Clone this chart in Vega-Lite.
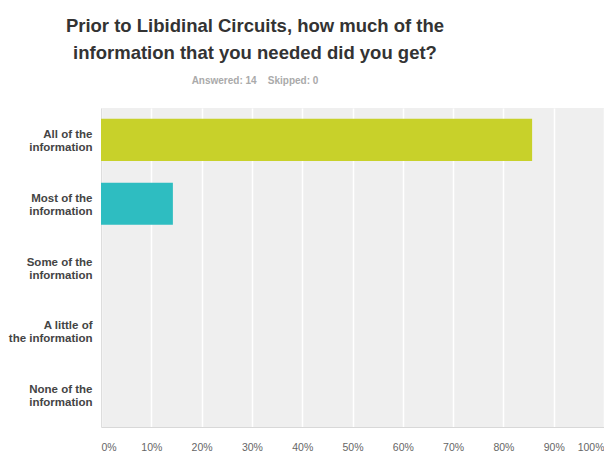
{
  "$schema": "https://vega.github.io/schema/vega-lite/v6.json",
  "width": 503,
  "height": 319,
  "autosize": {"type": "none"},
  "padding": {"left": 101, "top": 108, "right": 0, "bottom": 28},
  "background": "white",
  "config": {"view": {"fill": "#efefef", "stroke": null}},
  "title": {
    "text": ["Prior to Libidinal Circuits, how much of the", "information that you needed did you get?"],
    "subtitle": "Answered: 14\u00a0\u00a0\u00a0\u00a0Skipped: 0",
    "anchor": "start",
    "frame": "group",
    "align": "center",
    "dx": 154,
    "offset": 22,
    "font": "Liberation Sans",
    "fontSize": 18.5,
    "fontWeight": "bold",
    "color": "#333333",
    "lineHeight": 27,
    "subtitleFont": "Liberation Sans",
    "subtitleFontSize": 10,
    "subtitleFontWeight": "bold",
    "subtitleColor": "#aaaaaa",
    "subtitlePadding": 14
  },
  "data": {
    "values": [
      {"answer": "All of the|information", "pct": 85.71},
      {"answer": "Most of the|information", "pct": 14.29},
      {"answer": "Some of the|information", "pct": 0},
      {"answer": "A little of|the information", "pct": 0},
      {"answer": "None of the|information", "pct": 0}
    ]
  },
  "mark": {"type": "bar"},
  "encoding": {
    "y": {
      "field": "answer",
      "type": "nominal",
      "sort": null,
      "scale": {"paddingInner": 0.34, "paddingOuter": 0.17},
      "axis": {
        "title": null,
        "labelExpr": "split(datum.value, '|')",
        "labelFont": "Liberation Sans",
        "labelFontSize": 11.5,
        "labelFontWeight": "bold",
        "labelColor": "#444444",
        "labelLineHeight": 13,
        "labelPadding": 9,
        "labelOffset": -5,
        "labelLimit": 200,
        "ticks": false,
        "domainColor": "#dddddd"
      }
    },
    "x": {
      "field": "pct",
      "type": "quantitative",
      "scale": {"domain": [0, 100]},
      "axis": {
        "title": null,
        "values": [0, 10, 20, 30, 40, 50, 60, 70, 80, 90, 100],
        "labelExpr": "datum.value + '%'",
        "grid": true,
        "gridColor": "#ffffff",
        "gridWidth": 1.5,
        "ticks": false,
        "domainColor": "#d8d8d8",
        "labelFont": "Liberation Sans",
        "labelFontSize": 10.5,
        "labelColor": "#666666",
        "labelPadding": 15
      }
    },
    "color": {
      "field": "answer",
      "type": "nominal",
      "scale": {
        "domain": ["All of the|information", "Most of the|information", "Some of the|information", "A little of|the information", "None of the|information"],
        "range": ["#c8d12a", "#2ebdc1", "#f5a623", "#a4a4a4", "#e74c3c"]
      },
      "legend": null
    }
  }
}
